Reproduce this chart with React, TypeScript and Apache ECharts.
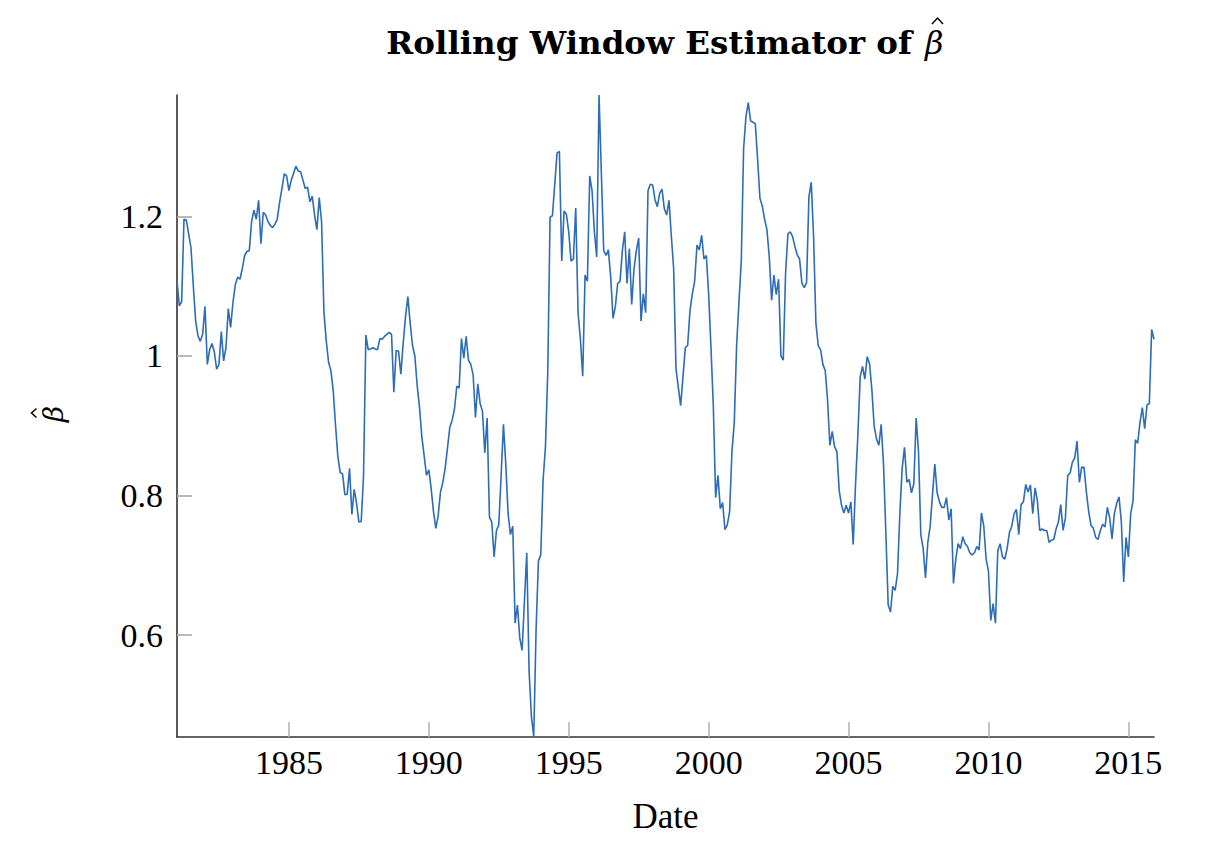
import { useEffect, useRef } from 'react'
import * as echarts from 'echarts'

// monthly rolling estimates, Jan 1981 - Dec 2015
const START_YEAR = 1981

const beta1980s = [
  1.107, 1.072, 1.078, 1.196, 1.195, 1.175, 1.155, 1.100, 1.050, 1.029, 1.021, 1.031,
  1.071, 0.988, 1.009, 1.018, 1.006, 0.981, 0.988, 1.035, 0.993, 1.012, 1.068, 1.041,
  1.077, 1.102, 1.113, 1.110, 1.125, 1.144, 1.150, 1.151, 1.193, 1.209, 1.196, 1.223,
  1.161, 1.206, 1.202, 1.193, 1.187, 1.184, 1.189, 1.196, 1.220, 1.240, 1.261, 1.258,
  1.237, 1.252, 1.262, 1.272, 1.265, 1.264, 1.252, 1.240, 1.242, 1.221, 1.229, 1.202,
  1.181, 1.227, 1.193, 1.064, 1.022, 0.991, 0.979, 0.950, 0.900, 0.855, 0.833, 0.831,
  0.801, 0.802, 0.839, 0.773, 0.809, 0.789, 0.762, 0.763, 0.828, 1.030, 1.009, 1.010,
  1.012, 1.010, 1.009, 1.025, 1.024, 1.028, 1.031, 1.034, 1.031, 0.948, 1.008, 1.007,
  0.974, 1.018, 1.056, 1.085, 1.047, 1.015, 1.000, 0.958, 0.926, 0.884, 0.857, 0.829
]

const beta1990s = [
  0.837, 0.810, 0.777, 0.753, 0.771, 0.805, 0.819, 0.839, 0.868, 0.898, 0.908, 0.924,
  0.957, 0.954, 1.025, 0.997, 1.028, 0.994, 0.988, 0.973, 0.912, 0.960, 0.932, 0.921,
  0.861, 0.911, 0.769, 0.762, 0.712, 0.750, 0.758, 0.828, 0.902, 0.845, 0.774, 0.744,
  0.756, 0.617, 0.643, 0.596, 0.578, 0.649, 0.718, 0.548, 0.483, 0.455, 0.608, 0.706,
  0.715, 0.822, 0.869, 0.976, 1.199, 1.201, 1.246, 1.291, 1.293, 1.136, 1.208, 1.203,
  1.178, 1.136, 1.139, 1.212, 1.062, 1.024, 0.971, 1.116, 1.107, 1.258, 1.237, 1.178,
  1.142, 1.374, 1.261, 1.151, 1.144, 1.152, 1.113, 1.054, 1.071, 1.104, 1.107, 1.151,
  1.178, 1.104, 1.154, 1.074, 1.125, 1.151, 1.169, 1.050, 1.089, 1.062, 1.237, 1.246,
  1.245, 1.224, 1.214, 1.233, 1.239, 1.211, 1.202, 1.223, 1.172, 1.125, 0.982, 0.955,
  0.929, 0.970, 1.012, 1.015, 1.065, 1.089, 1.107, 1.159, 1.152, 1.173, 1.139, 1.144
]

const beta2000s = [
  1.089, 1.012, 0.929, 0.797, 0.829, 0.781, 0.790, 0.751, 0.758, 0.777, 0.863, 0.905,
  1.015, 1.077, 1.136, 1.297, 1.343, 1.363, 1.337, 1.335, 1.333, 1.282, 1.226, 1.215,
  1.196, 1.181, 1.142, 1.080, 1.116, 1.088, 1.110, 1.000, 0.994, 1.119, 1.175, 1.178,
  1.171, 1.157, 1.145, 1.139, 1.104, 1.098, 1.105, 1.228, 1.249, 1.172, 1.047, 1.015,
  1.009, 0.988, 0.979, 0.937, 0.872, 0.892, 0.870, 0.863, 0.807, 0.786, 0.775, 0.786,
  0.775, 0.791, 0.730, 0.816, 0.887, 0.970, 0.985, 0.967, 0.999, 0.989, 0.952, 0.899,
  0.881, 0.872, 0.902, 0.845, 0.747, 0.643, 0.633, 0.670, 0.664, 0.688, 0.774, 0.839,
  0.869, 0.819, 0.823, 0.804, 0.817, 0.911, 0.863, 0.744, 0.724, 0.682, 0.733, 0.756,
  0.801, 0.845, 0.804, 0.791, 0.783, 0.783, 0.797, 0.765, 0.781, 0.674, 0.709, 0.731,
  0.724, 0.741, 0.731, 0.727, 0.718, 0.715, 0.718, 0.727, 0.722, 0.775, 0.756, 0.709
]

const beta2010s = [
  0.692, 0.621, 0.645, 0.617, 0.721, 0.731, 0.712, 0.709, 0.724, 0.747, 0.756, 0.774,
  0.780, 0.744, 0.787, 0.791, 0.816, 0.805, 0.815, 0.774, 0.811, 0.792, 0.750, 0.752,
  0.750, 0.750, 0.733, 0.736, 0.737, 0.752, 0.762, 0.787, 0.750, 0.768, 0.829, 0.832,
  0.848, 0.854, 0.878, 0.819, 0.841, 0.840, 0.805, 0.777, 0.757, 0.753, 0.740, 0.737,
  0.750, 0.759, 0.755, 0.783, 0.768, 0.738, 0.774, 0.789, 0.798, 0.762, 0.676, 0.740,
  0.712, 0.774, 0.792, 0.880, 0.875, 0.905, 0.926, 0.896, 0.930, 0.932, 1.038, 1.024
]

const yearTicks = [1985, 1990, 1995, 2000, 2005, 2010, 2015]
const betaTicks = [0.6, 0.8, 1, 1.2]

const betaValues = [...beta1980s, ...beta1990s, ...beta2000s, ...beta2010s]

const serif = 'Liberation Serif'
const mathFont = 'DejaVu Serif'

const App: React.FC = () => {
  const chartRef = useRef<HTMLDivElement | null>(null)

  useEffect(() => {
    if (chartRef.current === null) return
    const chart = echarts.init(chartRef.current, null, { renderer: 'svg' })

    const points = betaValues.map((v, i) => [START_YEAR + i / 12, v])

    // the hat over beta is drawn as a small chevron
    const hatStyle = { stroke: '#000', lineWidth: 1.5, fill: 'none' }

    const option = {
      animation: false,
      backgroundColor: '#fff',
      graphic: [
        {
          type: 'text',
          x: 912,
          y: 42,
          style: {
            text: 'Rolling Window Estimator of',
            fontFamily: mathFont,
            fontWeight: 'bold',
            fontSize: 32.5,
            fill: '#000',
            align: 'right',
            verticalAlign: 'middle'
          }
        },
        {
          type: 'text',
          x: 925,
          y: 43,
          style: {
            text: 'β',
            fontFamily: mathFont,
            fontStyle: 'italic',
            fontSize: 32,
            fill: '#000',
            align: 'left',
            verticalAlign: 'middle'
          }
        },
        {
          type: 'polyline',
          shape: { points: [[932, 24], [937.5, 18], [943, 24]] },
          style: hatStyle
        },
        {
          // y axis name, rotated
          type: 'group',
          x: 53,
          y: 414,
          rotation: Math.PI / 2,
          children: [
            {
              type: 'text',
              x: 0,
              y: 0,
              style: {
                text: 'β',
                fontFamily: mathFont,
                fontStyle: 'italic',
                fontSize: 28,
                fill: '#000',
                align: 'center',
                verticalAlign: 'middle'
              }
            },
            {
              type: 'polyline',
              shape: { points: [[-3.5, -16.5], [1, -21.5], [5.5, -16.5]] },
              style: hatStyle
            }
          ]
        }
      ],
      grid: { left: 177, right: 54, top: 95, bottom: 111 },
      xAxis: {
        type: 'value',
        min: START_YEAR,
        max: START_YEAR + (betaValues.length - 1) / 12,
        name: 'Date',
        nameLocation: 'middle',
        nameGap: 62,
        nameTextStyle: { fontFamily: serif, fontSize: 35, color: '#000' },
        axisLine: { show: true, onZero: false, lineStyle: { color: '#333', width: 1.6 } },
        axisTick: {
          show: true,
          inside: true,
          length: 15,
          customValues: yearTicks,
          lineStyle: { color: '#b4b4b4', width: 1.6 }
        },
        axisLabel: {
          customValues: yearTicks,
          formatter: (v: number) => String(v),
          fontFamily: serif,
          fontSize: 34,
          color: '#000',
          margin: 8
        },
        splitLine: { show: false }
      },
      yAxis: {
        type: 'value',
        min: 0.454,
        max: 1.374,
        axisLine: { show: true, onZero: false, lineStyle: { color: '#333', width: 1.6 } },
        axisTick: {
          show: true,
          inside: true,
          length: 15,
          customValues: betaTicks,
          lineStyle: { color: '#a8a8a8', width: 1.6 }
        },
        axisLabel: {
          customValues: betaTicks,
          formatter: (v: number) => String(v),
          fontFamily: serif,
          fontSize: 34,
          color: '#000',
          margin: 14
        },
        splitLine: { show: false }
      },
      series: [
        {
          type: 'line',
          data: points,
          showSymbol: false,
          symbol: 'none',
          lineStyle: { color: '#2c6cb8', width: 1.6 }
        }
      ]
    }

    chart.setOption(option)
    return () => {
      chart.dispose()
    }
  }, [])

  return (
    <div
      ref={chartRef}
      style={{ position: 'fixed', left: 0, top: 0, width: 1208, height: 848 }}
    ></div>
  )
}

export default App
